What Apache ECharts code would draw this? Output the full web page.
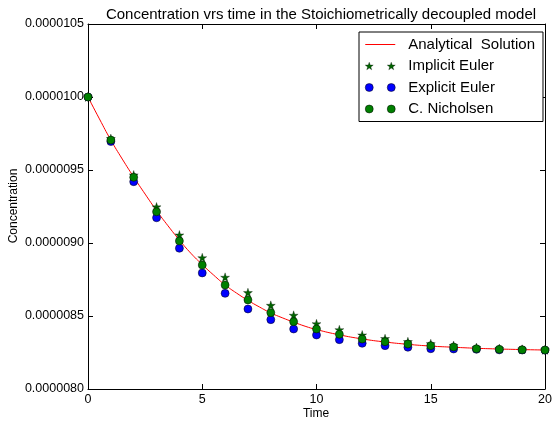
<!DOCTYPE html>
<html>
<head>
<meta charset="utf-8">
<script src="https://cdn.jsdelivr.net/npm/echarts@6/dist/echarts.min.js"></script>
<style>
html,body{margin:0;padding:0;background:#fff;}
#chart{width:556px;height:423px;}
</style>
</head>
<body>
<div id="chart"></div>
<script>
// Time steps for the numerical schemes
var times = [0,1,2,3,4,5,6,7,8,9,10,11,12,13,14,15,16,17,18,19,20];
// Analytical solution sample times and values
var analyticalTimes = [0,0.5,1,1.5,2,2.5,3,3.5,4,4.5,5,5.5,6,6.5,7,7.5,8,8.5,9,9.5,10,11,12,13,14,15,16,17,18,19,20];
var analyticalValues = [1.0000e-5,0.9850e-5,0.9705e-5,0.9575e-5,0.9452e-5,0.9335e-5,0.9222e-5,0.9118e-5,0.9020e-5,0.8930e-5,0.8852e-5,0.8780e-5,0.8713e-5,0.8657e-5,0.8607e-5,0.8562e-5,0.8521e-5,0.8488e-5,0.8458e-5,0.8430e-5,0.8407e-5,0.8371e-5,0.8343e-5,0.8322e-5,0.8306e-5,0.8294e-5,0.8286e-5,0.8279e-5,0.8274e-5,0.8270e-5,0.8267e-5];
var implicitEuler = [1.0000e-5,0.9715e-5,0.9466e-5,0.9247e-5,0.9055e-5,0.8899e-5,0.8765e-5,0.8660e-5,0.8573e-5,0.8505e-5,0.8447e-5,0.8406e-5,0.8370e-5,0.8345e-5,0.8324e-5,0.8310e-5,0.8298e-5,0.8284e-5,0.8277e-5,0.8272e-5,0.8268e-5];
var explicitEuler = [1.0000e-5,0.9695e-5,0.9420e-5,0.9173e-5,0.8964e-5,0.8795e-5,0.8655e-5,0.8548e-5,0.8475e-5,0.8411e-5,0.8370e-5,0.8338e-5,0.8313e-5,0.8297e-5,0.8286e-5,0.8276e-5,0.8274e-5,0.8272e-5,0.8268e-5,0.8267e-5,0.8266e-5];
var crankNicholson = [1.0000e-5,0.9705e-5,0.9450e-5,0.9214e-5,0.9014e-5,0.8849e-5,0.8712e-5,0.8610e-5,0.8523e-5,0.8461e-5,0.8411e-5,0.8375e-5,0.8342e-5,0.8324e-5,0.8308e-5,0.8297e-5,0.8288e-5,0.8276e-5,0.8272e-5,0.8269e-5,0.8267e-5];
var seriesNames = ['Analytical  Solution','Implicit Euler','Explicit Euler','C. Nicholsen'];
var axisNames = {x:'Time', y:'Concentration'};
var yTicks = {min: 0.0000080, max: 0.0000105, step: 0.0000005};
var xTicks = {min: 0, max: 20, step: 5};

function zip(xs, ys){ return xs.map(function(x,i){ return [x, ys[i]]; }); }

var STAR = 'path://M50,0 L61.8,35.3 L99,35.3 L69,57.3 L80.4,92.7 L50,70.8 L19.6,92.7 L31,57.3 L1,35.3 L38.2,35.3 Z';
function starAt(cx){
  var o=[[0,-4.2],[3.99,-1.3],[2.47,3.4],[-2.47,3.4],[-3.99,-1.3]];
  var n=[[1.0,-1.375],[1.617,0.525],[0,1.7],[-1.617,0.525],[-1.0,-1.375]];
  var s='M'+(cx+o[0][0])+','+(4.2+o[0][1]);
  for(var i=0;i<5;i++){
    s+=' L'+(cx+n[i][0])+','+(4.2+n[i][1]);
    if(i<4) s+=' L'+(cx+o[i+1][0])+','+(4.2+o[i+1][1]);
  }
  return s+' Z';
}
var LEG_STARS = 'path://'+starAt(4)+' '+starAt(26);
var LEG_DOTS = 'path://M0,4 a4,4 0 1,0 8,0 a4,4 0 1,0 -8,0 Z M22,4 a4,4 0 1,0 8,0 a4,4 0 1,0 -8,0 Z';
var LEG_LINE = 'path://M0,3.5 L30,3.5 L30,4.5 L0,4.5 Z';

var font = '"Liberation Sans", Arial, sans-serif';
var chart = echarts.init(document.getElementById('chart'), null, {renderer:'canvas'});
var axisCommon = {
  axisLine:{show:true, onZero:false, lineStyle:{color:'#000', width:1}},
  axisTick:{show:true, inside:true, length:5, lineStyle:{color:'#000', width:1}},
  splitLine:{show:false}
};
chart.setOption({
  animation:false,
  backgroundColor:'#fff',
  title:{
    text:'Concentration vrs time in the Stoichiometrically decoupled model',
    left:316, top:2, textAlign:'center',
    textStyle:{fontFamily:font, fontSize:15, fontWeight:'normal', color:'#000'}
  },
  graphic:[
    {type:'text', x:316, y:414, style:{text:axisNames.x, fontFamily:font, fontSize:12, fill:'#000', align:'center', verticalAlign:'middle'}},
    {type:'text', x:14, y:206, rotation:Math.PI/2, style:{text:axisNames.y, fontFamily:font, fontSize:12, fill:'#000', align:'center', verticalAlign:'middle'}}
  ],
  legend:{
    orient:'vertical', left:359, top:32,
    backgroundColor:'#fff', borderColor:'#000', borderWidth:1, borderRadius:0,
    padding:[5,8,5,6], itemGap:6.5, itemWidth:30, itemHeight:8,
    textStyle:{fontFamily:font, fontSize:15, color:'#000', padding:[0,0,0,8]},
    data:[
      {name:seriesNames[0], icon:LEG_LINE, itemStyle:{color:'#ff0000', borderWidth:0}},
      {name:seriesNames[1], icon:LEG_STARS, itemStyle:{color:'#006400', borderColor:'#000', borderWidth:0.3}},
      {name:seriesNames[2], icon:LEG_DOTS, itemStyle:{color:'#0000ff', borderColor:'#000', borderWidth:0.5}},
      {name:seriesNames[3], icon:LEG_DOTS, itemStyle:{color:'#008000', borderColor:'#000', borderWidth:0.5}}
    ]
  },
  grid:{left:88, right:11, top:24, bottom:34, containLabel:false, outerBoundsMode:'none'},
  xAxis:[
    Object.assign({type:'value', min:xTicks.min, max:xTicks.max, interval:xTicks.step, position:'bottom',
      axisLabel:{fontFamily:font, fontSize:12.5, color:'#000', margin:4}}, axisCommon),
    Object.assign({type:'value', min:xTicks.min, max:xTicks.max, interval:xTicks.step, position:'top',
      axisLabel:{show:false}}, axisCommon)
  ],
  yAxis:[
    Object.assign({type:'value', min:yTicks.min, max:yTicks.max, interval:yTicks.step, position:'left',
      axisLabel:{fontFamily:font, fontSize:12.5, color:'#000', margin:4,
        formatter:function(v){ return v.toFixed(7); }}}, axisCommon),
    Object.assign({type:'value', min:yTicks.min, max:yTicks.max, interval:yTicks.step, position:'right',
      axisLabel:{show:false}}, axisCommon)
  ],
  series:[
    {name:seriesNames[0], type:'line', data:zip(analyticalTimes, analyticalValues), smooth:true,
      showSymbol:false, symbol:'none', lineStyle:{color:'#ff0000', width:1}, itemStyle:{color:'#ff0000'}, z:2},
    {name:seriesNames[1], type:'scatter', data:zip(times, implicitEuler), symbol:STAR, symbolSize:9,
      itemStyle:{color:'#006400', borderColor:'#000', borderWidth:0.3, opacity:1}, z:3},
    {name:seriesNames[2], type:'scatter', data:zip(times, explicitEuler), symbol:'circle', symbolSize:8,
      itemStyle:{color:'#0000ff', borderColor:'#000', borderWidth:0.5, opacity:1}, z:4},
    {name:seriesNames[3], type:'scatter', data:zip(times, crankNicholson), symbol:'circle', symbolSize:8,
      itemStyle:{color:'#008000', borderColor:'#000', borderWidth:0.5, opacity:1}, z:5}
  ]
});
</script>
</body>
</html>
